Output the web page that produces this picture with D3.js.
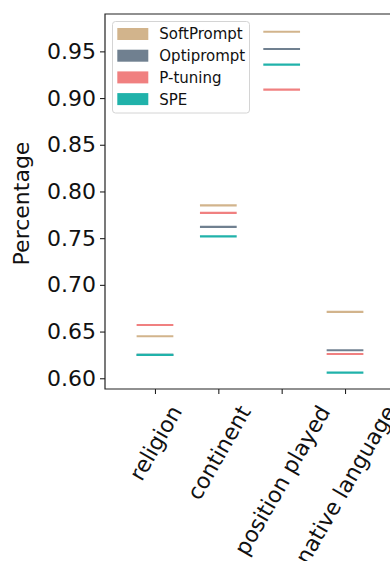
<!DOCTYPE html>
<html>
<head>
<meta charset="utf-8">
<script src="https://cdn.jsdelivr.net/npm/d3@7"></script>
<style>
    body { margin: 0; background: #fff; }
    svg { display: block; font-family: "DejaVu Sans", sans-serif; }
</style>
</head>
<body>
<svg id="chart" width="390" height="561"></svg>
<script>
const categories = ['religion', 'continent', 'position played', 'native language'];
const seriesNames = ['SoftPrompt', 'Optiprompt', 'P-tuning', 'SPE'];
const seriesColors = ['#D2B48C', '#708090', '#F08080', '#20B2AA'];
const softPrompt = [0.645, 0.785, 0.971, 0.671];
const optiprompt = [0.625, 0.762, 0.9525, 0.630];
const pTuning = [0.657, 0.777, 0.909, 0.626];
const spe = [0.625, 0.752, 0.9357, 0.606];
const yTicks = [0.60, 0.65, 0.70, 0.75, 0.80, 0.85, 0.90, 0.95];

const seriesValues = [softPrompt, optiprompt, pTuning, spe];

const svg = d3.select('#chart');
const plotLeft = 105, plotRight = 395, plotTop = 14, plotBottom = 389;
const fontSize = 22;

const x = d3.scalePoint()
    .domain(categories)
    .range([plotLeft, plotRight])
    .padding(0.789);

const y = d3.scaleLinear()
    .domain([0.5885, 0.990])
    .range([plotBottom, plotTop]);

const half = x.step() * 0.29;

//Segments
seriesNames.forEach((name, s) => {
    svg.append('g')
        .selectAll('line')
        .data(categories)
        .join('line')
        .attr('x1', d => x(d) - half)
        .attr('x2', d => x(d) + half)
        .attr('y1', (d, i) => y(seriesValues[s][i]))
        .attr('y2', (d, i) => y(seriesValues[s][i]))
        .attr('stroke', seriesColors[s])
        .attr('stroke-width', 2.2);
});

//Y axis
const yAxis = svg.append('g')
    .attr('transform', `translate(${plotLeft},0)`)
    .call(d3.axisLeft(y).tickValues(yTicks).tickFormat(d3.format('.2f')).tickSize(5).tickPadding(4));
yAxis.select('.domain').remove();
yAxis.selectAll('.tick line').attr('stroke', '#222').attr('stroke-width', 1.1);
yAxis.selectAll('.tick text').attr('font-size', fontSize).attr('fill', '#111').attr('font-family', '"DejaVu Sans", sans-serif');

//X axis
const xAxis = svg.append('g')
    .attr('transform', `translate(0,${plotBottom})`)
    .call(d3.axisBottom(x).tickSize(5));
xAxis.select('.domain').remove();
xAxis.selectAll('.tick line').attr('stroke', '#222').attr('stroke-width', 1.1);
xAxis.selectAll('.tick text')
    .attr('font-size', fontSize)
    .attr('fill', '#111')
    .attr('font-family', '"DejaVu Sans", sans-serif')
    .attr('text-anchor', 'middle')
    .attr('dy', '0.35em')
    .each(function() {
        const t = d3.select(this);
        const w = this.getComputedTextLength();
        const h = fontSize * 1.17;
        const a = Math.PI / 3;
        const bh = w * Math.sin(a) + h * Math.cos(a);
        t.attr('y', 0).attr('transform', `translate(0,${12 + bh / 2}) rotate(-60)`);
    });

//Spines
svg.append('path')
    .attr('d', `M${plotLeft},${plotTop}V${plotBottom}H${plotRight}V${plotTop}Z`)
    .attr('fill', 'none')
    .attr('stroke', '#222')
    .attr('stroke-width', 1.2);

svg.append('text')
    .attr('transform', `translate(29,${(plotTop + plotBottom) / 2 + 2}) rotate(-90)`)
    .attr('text-anchor', 'middle')
    .attr('font-size', fontSize)
    .attr('fill', '#111')
    .text('Percentage');

//Legend
const legend = svg.append('g');
legend.append('rect')
    .attr('x', 112.5).attr('y', 21.5)
    .attr('width', 137).attr('height', 91.5)
    .attr('rx', 3)
    .attr('fill', 'rgba(255,255,255,0.8)')
    .attr('stroke', '#d4d4d4')
    .attr('stroke-width', 1);

const rows = legend.selectAll('g.row')
    .data(seriesNames)
    .join('g')
    .attr('class', 'row')
    .attr('transform', (d, i) => `translate(117.3,${28 + i * 21.7})`);
rows.append('rect')
    .attr('width', 31).attr('height', 12)
    .attr('fill', (d, i) => seriesColors[i]);
rows.append('text')
    .attr('x', 42)
    .attr('y', 6)
    .attr('dy', '0.36em')
    .attr('font-size', 15)
    .attr('fill', '#111')
    .text(d => d);
</script>
</body>
</html>
